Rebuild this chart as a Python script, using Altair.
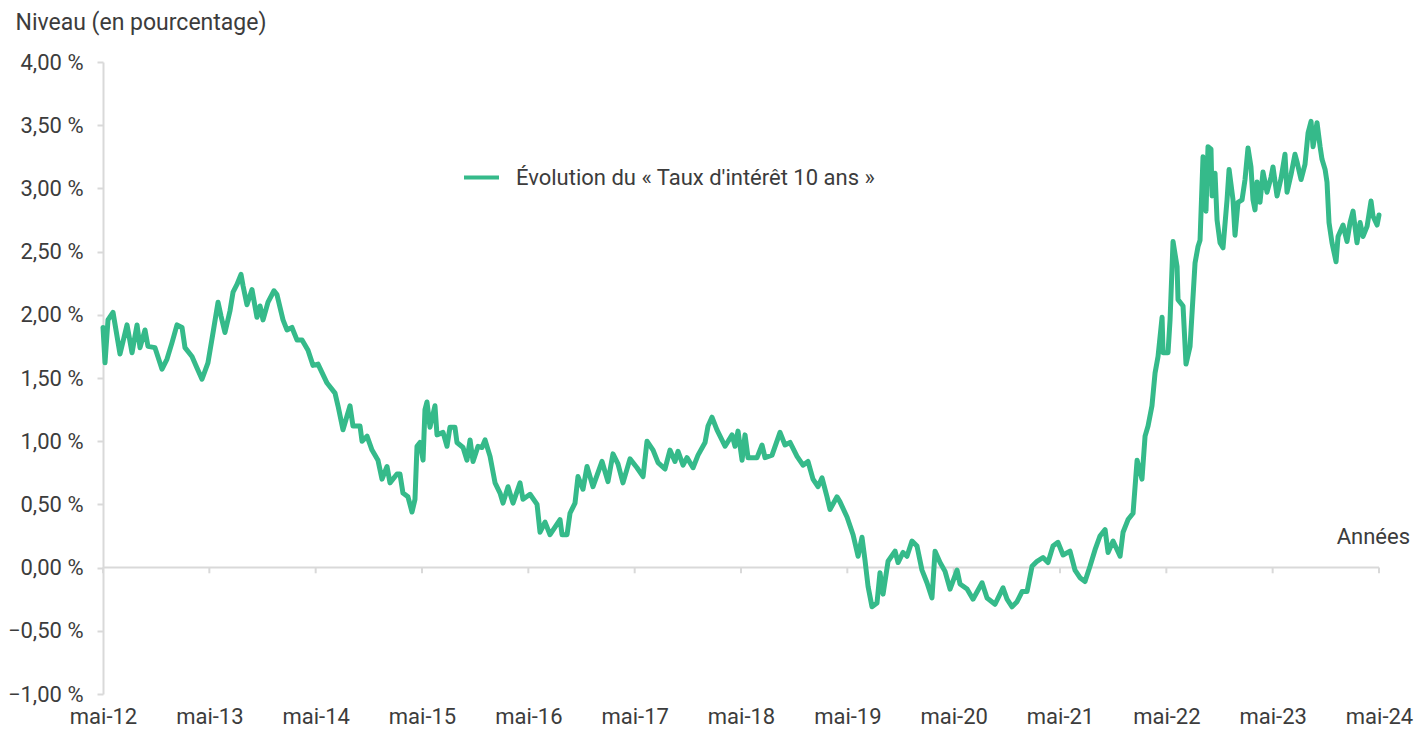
import altair as alt
import pandas as pd

# Années écoulées depuis mai 2012
annees = [
    0.000, 0.019, 0.047, 0.094, 0.160, 0.226, 0.273, 0.320, 0.348, 0.395,
    0.423, 0.489, 0.555, 0.602, 0.649, 0.696, 0.743, 0.771, 0.837, 0.884,
    0.931, 0.987, 1.035, 1.082, 1.110, 1.147, 1.194, 1.223, 1.260, 1.298,
    1.317, 1.354, 1.401, 1.448, 1.477, 1.505, 1.552, 1.608, 1.636, 1.693,
    1.730, 1.777, 1.825, 1.872, 1.928, 1.975, 2.022, 2.107, 2.182, 2.210,
    2.257, 2.323, 2.351, 2.417, 2.436, 2.483, 2.530, 2.586, 2.624, 2.671,
    2.699, 2.765, 2.793, 2.821, 2.868, 2.906, 2.934, 2.953, 2.981, 3.010,
    3.028, 3.047, 3.075, 3.122, 3.141, 3.198, 3.235, 3.263, 3.310, 3.329,
    3.386, 3.423, 3.452, 3.480, 3.527, 3.564, 3.593, 3.640, 3.687, 3.734,
    3.762, 3.809, 3.856, 3.922, 3.950, 4.016, 4.082, 4.110, 4.157, 4.204,
    4.251, 4.298, 4.317, 4.364, 4.392, 4.439, 4.467, 4.514, 4.552, 4.608,
    4.693, 4.749, 4.796, 4.843, 4.890, 4.956, 5.022, 5.079, 5.116, 5.173,
    5.220, 5.285, 5.332, 5.379, 5.408, 5.455, 5.492, 5.549, 5.596, 5.662,
    5.690, 5.727, 5.774, 5.850, 5.916, 5.944, 5.972, 6.010, 6.038, 6.066,
    6.151, 6.198, 6.226, 6.292, 6.367, 6.414, 6.461, 6.527, 6.583, 6.630,
    6.677, 6.724, 6.762, 6.809, 6.837, 6.903, 6.931, 6.997, 7.054, 7.101,
    7.138, 7.166, 7.195, 7.232, 7.279, 7.307, 7.336, 7.383, 7.449, 7.477,
    7.524, 7.561, 7.608, 7.655, 7.702, 7.749, 7.796, 7.825, 7.872, 7.919,
    7.966, 8.032, 8.060, 8.126, 8.182, 8.267, 8.314, 8.389, 8.464, 8.502,
    8.549, 8.596, 8.643, 8.690, 8.737, 8.784, 8.840, 8.887, 8.934, 8.981,
    9.029, 9.094, 9.141, 9.188, 9.235, 9.282, 9.329, 9.376, 9.424, 9.452,
    9.499, 9.565, 9.593, 9.640, 9.687, 9.725, 9.771, 9.800, 9.828, 9.865,
    9.894, 9.922, 9.960, 9.969, 10.016, 10.035, 10.063, 10.101, 10.110, 10.157,
    10.185, 10.223, 10.270, 10.298, 10.317, 10.345, 10.373, 10.392, 10.420, 10.430,
    10.458, 10.477, 10.505, 10.533, 10.571, 10.590, 10.627, 10.646, 10.674, 10.712,
    10.740, 10.768, 10.796, 10.815, 10.834, 10.853, 10.881, 10.909, 10.947, 10.985,
    11.003, 11.041, 11.079, 11.116, 11.135, 11.173, 11.210, 11.229, 11.267, 11.304,
    11.333, 11.361, 11.380, 11.417, 11.446, 11.464, 11.493, 11.511, 11.530, 11.558,
    11.596, 11.615, 11.662, 11.699, 11.728, 11.756, 11.793, 11.822, 11.850, 11.888,
    11.925, 11.944, 11.982, 12.000,
]

# Taux d'intérêt 10 ans (en %)
taux = [
    1.90, 1.62, 1.96, 2.02, 1.69, 1.92, 1.70, 1.92, 1.74, 1.88,
    1.75, 1.74, 1.57, 1.65, 1.78, 1.92, 1.90, 1.74, 1.67, 1.58,
    1.49, 1.62, 1.86, 2.10, 1.99, 1.86, 2.03, 2.18, 2.24, 2.32,
    2.23, 2.08, 2.20, 1.98, 2.07, 1.96, 2.10, 2.19, 2.16, 1.96,
    1.88, 1.90, 1.80, 1.80, 1.72, 1.60, 1.61, 1.46, 1.38, 1.28,
    1.09, 1.28, 1.12, 1.12, 1.00, 1.04, 0.93, 0.85, 0.70, 0.80,
    0.67, 0.74, 0.74, 0.59, 0.56, 0.44, 0.54, 0.96, 0.99, 0.85,
    1.25, 1.31, 1.11, 1.28, 1.05, 1.07, 0.96, 1.11, 1.11, 0.99,
    0.95, 0.85, 1.01, 0.84, 0.96, 0.95, 1.01, 0.88, 0.67, 0.59,
    0.51, 0.64, 0.51, 0.67, 0.54, 0.58, 0.50, 0.28, 0.36, 0.26,
    0.32, 0.38, 0.26, 0.26, 0.43, 0.51, 0.72, 0.62, 0.80, 0.64,
    0.84, 0.68, 0.90, 0.82, 0.67, 0.86, 0.79, 0.72, 1.00, 0.93,
    0.83, 0.78, 0.93, 0.84, 0.92, 0.81, 0.87, 0.79, 0.89, 0.99,
    1.12, 1.19, 1.09, 0.96, 1.05, 0.96, 1.08, 0.85, 1.05, 0.87,
    0.87, 0.97, 0.87, 0.89, 1.07, 0.97, 0.99, 0.88, 0.81, 0.84,
    0.70, 0.64, 0.71, 0.56, 0.46, 0.56, 0.52, 0.40, 0.26, 0.09,
    0.24, 0.06, -0.15, -0.31, -0.28, -0.04, -0.21, 0.05, 0.13, 0.04,
    0.12, 0.09, 0.21, 0.17, -0.02, -0.12, -0.24, 0.13, 0.04, -0.03,
    -0.17, -0.02, -0.13, -0.17, -0.25, -0.12, -0.24, -0.29, -0.16, -0.25,
    -0.31, -0.27, -0.19, -0.19, 0.01, 0.05, 0.08, 0.04, 0.17, 0.20,
    0.10, 0.13, -0.02, -0.08, -0.11, 0.01, 0.14, 0.25, 0.30, 0.12,
    0.21, 0.09, 0.28, 0.38, 0.43, 0.85, 0.70, 1.04, 1.12, 1.28,
    1.54, 1.67, 1.98, 1.70, 1.70, 1.96, 2.58, 2.38, 2.12, 2.07,
    1.61, 1.75, 2.41, 2.54, 2.59, 3.25, 2.82, 3.33, 3.31, 2.94,
    3.12, 2.75, 2.57, 2.53, 2.91, 3.15, 2.91, 2.63, 2.89, 2.91,
    3.07, 3.32, 3.17, 2.91, 2.83, 3.05, 2.89, 3.13, 2.97, 3.09,
    3.17, 2.94, 3.08, 3.27, 2.97, 3.11, 3.27, 3.21, 3.07, 3.19,
    3.44, 3.53, 3.33, 3.52, 3.33, 3.23, 3.15, 3.05, 2.73, 2.57,
    2.42, 2.62, 2.71, 2.58, 2.73, 2.82, 2.57, 2.73, 2.62, 2.70,
    2.90, 2.78, 2.71, 2.79,
]

serie = "Évolution du « Taux d'intérêt 10 ans »"
ticks_x = list(range(0, 13))
ticks_y = [-1.0, -0.5, 0.0, 0.5, 1.0, 1.5, 2.0, 2.5, 3.0, 3.5, 4.0]
titre_y = "Niveau (en pourcentage)"
titre_x = "Années"

GREEN = "#35BA8A"
GRAY = "#d9d9d9"
TXT = "#3c3c3c"
FONT = "Roboto"

df = pd.DataFrame({"t": annees, "v": taux, "s": [serie] * len(annees)})
df_ticks = pd.DataFrame({"t": ticks_x})
df_zero = pd.DataFrame({"y": [0.0]})
df_lab = pd.DataFrame({"t": [12], "y": [0.0], "txt": [titre_x]})

xs = alt.Scale(domain=[0, 12], nice=False, zero=False)
ys = alt.Scale(domain=[-1, 4], nice=False, zero=False)

zero_line = alt.Chart(df_zero).mark_rule(color=GRAY, strokeWidth=2).encode(
    y=alt.Y("y:Q", scale=ys)
)

x_ticks = alt.Chart(df_ticks).mark_rule(color=GRAY, strokeWidth=2).encode(
    x=alt.X("t:Q", scale=xs),
    y=alt.datum(0.0),
    y2=alt.datum(-0.045),
)

line = alt.Chart(df).mark_line(strokeWidth=5, strokeJoin="round", strokeCap="round").encode(
    x=alt.X(
        "t:Q",
        scale=xs,
        axis=alt.Axis(
            values=ticks_x,
            labelExpr="'mai-' + (12 + datum.value)",
            domain=False,
            ticks=False,
            grid=False,
            labelFlush=False,
            labelBound=False,
            labelOverlap=False,
            labelPadding=12,
            labelFontSize=22,
            labelFont=FONT,
            labelColor=TXT,
            title=None,
        ),
    ),
    y=alt.Y(
        "v:Q",
        scale=ys,
        axis=alt.Axis(
            values=ticks_y,
            labelExpr="replace(format(datum.value, '.2f'), '.', ',') + ' %'",
            domain=True,
            domainColor=GRAY,
            domainWidth=2,
            ticks=True,
            tickColor=GRAY,
            tickWidth=2,
            tickSize=6,
            grid=False,
            labelFlush=False,
            labelOverlap=False,
            labelPadding=14,
            labelFontSize=22,
            labelFont=FONT,
            labelColor=TXT,
            title=titre_y,
            titleAngle=0,
            titleAlign="left",
            titleBaseline="middle",
            titleX=-88,
            titleY=-40,
            titleFont=FONT,
            titleFontSize=23,
            titleFontWeight="normal",
            titleColor=TXT,
        ),
    ),
    color=alt.Color(
        "s:N",
        scale=alt.Scale(range=[GREEN]),
        legend=alt.Legend(
            title=None,
            orient="none",
            legendX=359,
            legendY=96,
            symbolType="stroke",
            symbolSize=1225,
            symbolStrokeWidth=4,
            labelFont=FONT,
            labelFontSize=22,
            labelColor=TXT,
            labelOffset=15,
            labelLimit=0,
            padding=0,
        ),
    ),
)

annees_txt = alt.Chart(df_lab).mark_text(
    align="right", baseline="middle", dx=31, dy=-31, font=FONT, fontSize=22, color=TXT
).encode(x=alt.X("t:Q", scale=xs), y=alt.Y("y:Q", scale=ys), text="txt:N")

chart = (
    alt.layer(zero_line, x_ticks, line, annees_txt)
    .properties(
        width=1276,
        height=632,
        padding={"left": 95, "top": 54, "right": 40, "bottom": 36},
        autosize=alt.AutoSizeParams(type="none"),
    )
    .configure_view(stroke=None)
)

chart.save("out.html", embed_options={"renderer": "svg", "actions": False})
